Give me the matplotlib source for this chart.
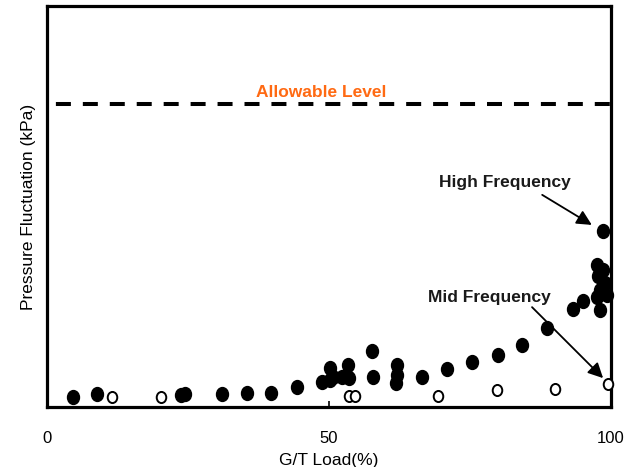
import matplotlib
matplotlib.use("Agg")
from matplotlib import pyplot as plt
from matplotlib.path import Path
from matplotlib.transforms import Affine2D

plt.rcParams["font.family"] = ["Liberation Sans", "DejaVu Sans"]
plt.rcParams["lines.scale_dashes"] = False

# high frequency component (filled)
high_load = [4.6, 8.9, 23.8, 24.5, 31.0, 35.5, 39.7, 44.3, 48.8, 50.2, 50.2, 50.7,
             52.3, 53.4, 53.5, 57.6, 57.8, 62.1, 62.1, 61.9, 66.5, 70.9, 75.4,
             80.0, 84.2, 88.7, 93.3, 95.0, 98.6, 97.5, 98.6, 97.7, 98.9, 98.0,
             97.5, 99.3, 98.0]
high_press = [2.5, 3.2, 3.0, 3.2, 3.2, 3.5, 3.5, 5.0, 6.2, 9.7, 6.7, 7.5,
              7.5, 10.5, 7.2, 14.0, 7.5, 10.5, 8.0, 6.0, 7.5, 9.5, 11.2,
              13.0, 15.5, 19.7, 24.4, 26.4, 43.9, 35.4, 34.2, 32.7, 30.9, 29.2,
              27.4, 27.9, 24.2]

# mid frequency component (open)
mid_load = [11.5, 20.2, 53.5, 54.6, 69.3, 79.8, 90.1, 99.5]
mid_press = [2.5, 2.5, 2.7, 2.7, 2.7, 4.2, 4.5, 5.7]

allowable = 75.6

# slightly tall ellipse marker, like the original
oval = Affine2D().scale(0.86, 1.0).transform_path(Path.unit_circle())

fig = plt.figure(figsize=(6.42, 4.67), dpi=100)
ax = fig.add_axes([0.0732, 0.1285, 0.8785, 0.8587])

ax.axhline(allowable, color="black", lw=2.9, linestyle=(13, (10.8, 8.6)))
ax.text(48.6, 78.3, "Allowable Level", color="#ff6a13", fontsize=12.5,
        fontweight="bold", ha="center", va="center")

ax.plot(high_load, high_press, marker=oval, ls="none", color="black", ms=10,
        clip_on=False, zorder=3)
ax.plot(mid_load, mid_press, marker=oval, ls="none", mfc="white", mec="black",
        mew=1.4, ms=8, clip_on=False, zorder=3)

arrow = dict(arrowstyle="-|>,head_length=0.9,head_width=0.45", color="black",
             lw=1.3, shrinkA=0, shrinkB=0)
ax.annotate("", xy=(96.6, 45.4), xytext=(87.8, 52.9), arrowprops=arrow)
ax.text(81.2, 56.1, "High Frequency", fontsize=12.5, fontweight="bold",
        ha="center", va="center", color="#1a1a1a")
ax.annotate("", xy=(98.6, 7.2), xytext=(86.0, 24.9), arrowprops=arrow)
ax.text(78.5, 27.4, "Mid Frequency", fontsize=12.5, fontweight="bold",
        ha="center", va="center", color="#1a1a1a")

ax.set_xlim(0, 100)
ax.set_ylim(0, 100)
ax.set_xticks([0, 50, 100])
ax.set_yticks([])
ax.tick_params(axis="x", direction="in", length=4, width=1.2, pad=17, labelsize=12)
for s in ax.spines.values():
    s.set_linewidth(2.3)

ax.set_xlabel("G/T Load(%)", fontsize=12.5, labelpad=5)
ax.set_ylabel("Pressure Fluctuation (kPa)", fontsize=12.5, labelpad=8)

fig.savefig("out.png", dpi=100)
